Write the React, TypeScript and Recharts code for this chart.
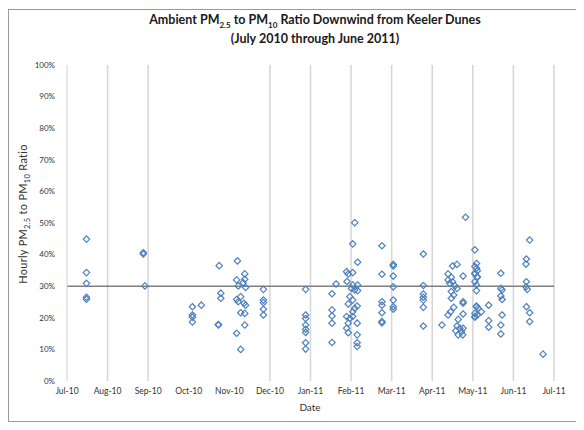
import { ReferenceLine, Scatter, ScatterChart, XAxis, YAxis } from "recharts";

// month labels on the date axis (position 0 = Jul-10, 12 = Jul-11)
const monthLabels = [
  "Jul-10", "Aug-10", "Sep-10", "Oct-10", "Nov-10", "Dec-10",
  "Jan-11", "Feb-11", "Mar-11", "Apr-11", "May-11", "Jun-11", "Jul-11"
];
const monthTicks = monthLabels.map((_, i) => i);
const gridMonths = [1, 2, 5, 6, 7, 8, 9, 10, 11, 12];
const ratioTicks = [0, 10, 20, 30, 40, 50, 60, 70, 80, 90, 100];
const thresholdRatio = 30;

// sampling dates, in months since 1 Jul 2010
const sampleMonths = [
  0.48, 1.88, 1.92, 3.09, 3.31, 3.75, 3.79, 3.73,
  4.2, 4.18, 4.22, 4.28, 4.34, 4.38, 4.36, 4.4, 4.84,
  5.88, 6.63, 6.53,
  7.09, 7.04, 7.16, 6.89, 6.93, 6.9, 7.01, 6.97, 7.15,
  7.76, 8.04, 8.78, 9.24,
  9.5, 9.61, 9.39, 9.47, 9.43, 9.56, 9.53, 9.45, 9.64, 9.68, 9.58,
  9.76, 9.72, 9.75, 9.82,
  10.05, 10.09, 10.11, 10.13, 10.21, 10.39, 10.69, 10.72,
  11.4, 11.32, 11.31, 11.34, 11.73
];

// hourly PM2.5/PM10 ratios (%) observed on each sampling date
const hourlyRatios = [
  [44.9, 34.3, 30.9, 26.5, 25.9],
  [40.6, 40.2],
  [30.1],
  [23.5, 20.9, 20.2, 18.7],
  [24.0],
  [36.5],
  [27.8, 26.2],
  [17.7, 17.9],
  [38.0],
  [32.0, 25.8, 15.1],
  [30.1, 25.1],
  [26.7, 21.6, 10.0],
  [31.1],
  [33.9, 32.2, 21.4, 17.7],
  [24.6],
  [29.6, 24.0],
  [29.0, 25.6, 24.8, 22.7, 20.9],
  [29.0, 20.9, 19.8, 17.7, 16.4, 15.4, 12.1, 10.1],
  [30.7],
  [27.6, 22.5, 20.6, 18.3, 12.2],
  [50.1, 28.8, 23.0],
  [43.4, 34.3, 30.4, 25.6, 21.9, 20.4],
  [37.6, 30.4, 28.6],
  [34.6, 20.4, 16.7],
  [33.9, 24.4, 18.3, 15.3],
  [31.5],
  [29.3],
  [26.7, 19.8],
  [23.7, 18.3, 14.6, 12.1, 10.9],
  [42.8, 33.8, 25.1, 24.0, 21.6, 18.8, 18.4],
  [36.9, 36.4, 33.2, 29.8, 25.6, 23.5, 22.7],
  [40.2, 30.2, 27.5, 26.5, 25.6, 23.3, 17.4],
  [17.7],
  [36.4, 31.4],
  [36.9, 29.3, 17.4],
  [33.9, 32.0, 20.9],
  [32.8, 28.3, 26.2],
  [30.9],
  [30.1],
  [27.2, 23.3],
  [21.9],
  [19.5, 14.6],
  [16.7],
  [15.9],
  [33.2, 25.1, 24.6, 21.2, 16.7],
  [15.6],
  [14.6],
  [51.8],
  [41.5, 36.2, 34.1, 33.9, 31.4, 21.4, 20.4, 20.2],
  [37.2, 35.7, 30.4, 28.6, 23.7, 23.5],
  [34.9, 33.0, 32.8, 20.9],
  [23.0],
  [21.9],
  [24.0, 19.1, 17.0],
  [34.1, 29.3, 26.9, 17.7, 14.9],
  [28.8, 25.8, 20.9],
  [44.6, 21.6, 18.8],
  [38.6, 31.4, 23.5],
  [37.0, 29.8],
  [29.0],
  [8.5]
];

const points = sampleMonths.flatMap((month, i) =>
  hourlyRatios[i].map((ratio) => ({ month, ratio }))
);

const FONT = "Lato, 'Liberation Sans', sans-serif";

function Diamond(props: any) {
  const { cx, cy } = props;
  const r = 3.2;
  return (
    <path
      d={`M${cx},${cy - r}L${cx + r},${cy}L${cx},${cy + r}L${cx - r},${cy}Z`}
      fill="none"
      stroke="#4f81bd"
      strokeWidth={1.2}
    />
  );
}

export default function App() {
  return (
    <div
      style={{
        position: "relative",
        marginTop: 1,
        width: 568,
        height: 411,
        border: "1px solid #9a9a9a",
        background: "#fff",
        fontFamily: FONT,
        color: "#1a1a1a"
      }}
    >
      <div
        style={{
          position: "absolute",
          top: 0,
          left: 40,
          width: 532,
          textAlign: "center",
          fontWeight: 700,
          fontSize: 12.5,
          lineHeight: "19px"
        }}
      >
        <div>
          Ambient PM<sub style={{ fontSize: 8, lineHeight: 0 }}>2.5</sub> to PM
          <sub style={{ fontSize: 8, lineHeight: 0 }}>10</sub> Ratio Downwind from Keeler Dunes
        </div>
        <div>(July 2010 through June 2011)</div>
      </div>
      <div
        style={{
          position: "absolute",
          left: 14,
          top: 204,
          transform: "translate(-50%, -50%) rotate(-90deg)",
          whiteSpace: "nowrap",
          fontSize: 11,
          lineHeight: "12px",
          letterSpacing: 0.3,
          color: "#333"
        }}
      >
        Hourly PM<sub style={{ fontSize: 7.5, lineHeight: 0 }}>2.5</sub> to PM
        <sub style={{ fontSize: 7.5, lineHeight: 0 }}>10</sub> Ratio
      </div>
      <div
        style={{
          position: "absolute",
          left: 301,
          top: 397,
          transform: "translate(-50%, -50%)",
          fontSize: 10,
          color: "#333"
        }}
      >
        Date
      </div>
      <ScatterChart
        width={568}
        height={411}
        margin={{ top: 55, right: 23, bottom: 10, left: 18 }}
        style={{ position: "absolute", left: 0, top: 0 }}
      >
        <XAxis
          type="number"
          dataKey="month"
          domain={[0, 12]}
          ticks={monthTicks}
          tickFormatter={(v) => monthLabels[v] ?? ""}
          height={30}
          axisLine={false}
          tickLine={false}
          tickSize={3}
          tickMargin={4}
          interval={0}
          tick={{ fill: "#333", fontSize: 8.5, fontFamily: FONT }}
        />
        <YAxis
          type="number"
          dataKey="ratio"
          domain={[0, 100]}
          ticks={ratioTicks}
          tickFormatter={(v) => `${v}%`}
          width={40}
          axisLine={{ stroke: "#d0d0d0" }}
          tickLine={false}
          tickSize={8}
          tickMargin={4}
          interval={0}
          tick={{ fill: "#333", fontSize: 8, fontFamily: FONT }}
        />
        {gridMonths.map((m) => (
          <ReferenceLine key={m} x={m} stroke="#d6d6d6" strokeWidth={1.5} />
        ))}
        <ReferenceLine y={thresholdRatio} stroke="#7f7f7f" strokeWidth={1.5} />
        <Scatter data={points} shape={Diamond} isAnimationActive={false} />
      </ScatterChart>
    </div>
  );
}
